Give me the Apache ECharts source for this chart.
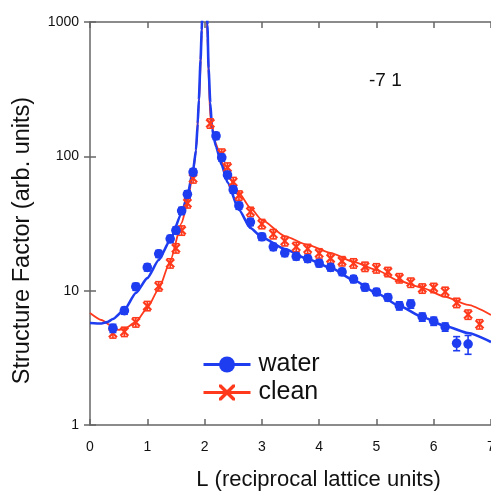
<!DOCTYPE html>
<html>
<head>
<meta charset="utf-8">
<script src="https://cdn.jsdelivr.net/npm/echarts@6/dist/echarts.min.js"></script>
<style>
  html, body { margin: 0; padding: 0; background: #fff; }
  #main { width: 491px; height: 495px; }
</style>
</head>
<body>
<div id="main"></div>
<script>
// measured points (L, structure factor, relative error)
var waterL = [0.4, 0.6, 0.8, 1.0, 1.2, 1.4, 1.5, 1.6, 1.7, 1.8,
  2.2, 2.3, 2.4, 2.5, 2.6, 2.8, 3.0, 3.2, 3.4, 3.6, 3.8, 4.0, 4.2, 4.4, 4.6,
  4.8, 5.0, 5.2, 5.4, 5.6, 5.8, 6.0, 6.2, 6.4, 6.6];
var waterS = [5.25, 7.1, 10.7, 14.9, 18.8, 24.3, 28.1, 39.3, 52.2, 76.3,
  142, 97.8, 72.7, 56.5, 42.9, 32.4, 25.2, 21.2, 19.1, 18.0, 17.3, 16.0, 14.9, 13.8, 12.2,
  10.6, 9.78, 8.9, 7.72, 7.96, 6.37, 5.93, 5.37, 4.06, 4.0];
var waterErr = [0.07, 0.06, 0.06, 0.06, 0.06, 0.06, 0.06, 0.06, 0.06, 0.06,
  0.06, 0.06, 0.06, 0.06, 0.06, 0.06, 0.06, 0.06, 0.06, 0.06, 0.06, 0.06, 0.06, 0.06, 0.06,
  0.06, 0.06, 0.06, 0.07, 0.07, 0.07, 0.07, 0.07, 0.12, 0.16];

var cleanL = [0.4, 0.6, 0.8, 1.0, 1.2, 1.4, 1.5, 1.6, 1.7, 1.8,
  2.1, 2.3, 2.4, 2.5, 2.6, 2.8, 3.0, 3.2, 3.4, 3.6, 3.8, 4.0, 4.2, 4.4, 4.6,
  4.8, 5.0, 5.2, 5.4, 5.6, 5.8, 6.0, 6.2, 6.4, 6.6, 6.8];
var cleanS = [4.82, 4.95, 5.82, 7.7, 10.8, 16.0, 20.7, 28.1, 44.8, 68.7,
  176, 105, 82.7, 64.5, 51.2, 38.7, 31.4, 26.4, 23.4, 21.2, 20.5, 19.0, 17.4, 16.6, 16.0,
  15.1, 14.7, 13.8, 12.4, 11.5, 10.4, 10.5, 9.83, 8.13, 6.65, 5.63];
var cleanErr = [0.08, 0.08, 0.08, 0.08, 0.08, 0.08, 0.08, 0.08, 0.08, 0.08,
  0.08, 0.08, 0.08, 0.08, 0.08, 0.08, 0.08, 0.08, 0.08, 0.08, 0.08, 0.08, 0.08, 0.08, 0.08,
  0.08, 0.08, 0.08, 0.08, 0.08, 0.08, 0.08, 0.08, 0.08, 0.08, 0.08];

// fitted curves
var waterFitL = [0, 0.2, 0.3, 0.4, 0.6, 0.8, 1.0, 1.2, 1.4, 1.6, 1.7, 1.8, 1.85, 1.88, 1.9, 1.93, 1.95, 1.97, 2.0,
  2.03, 2.05, 2.07, 2.1, 2.13, 2.2, 2.3, 2.4, 2.6, 2.8, 3.0, 3.4, 3.8, 4.2, 4.6, 5.0, 5.4, 5.8, 6.2, 6.6, 7.0];
var waterFitS = [5.75, 5.7, 5.83, 6.15, 7.2, 9.6, 12.4, 16.9, 23.8, 37.7, 51, 79, 111, 175, 263, 520, 870, 1800, 50000,
  1800, 950, 450, 250, 160, 118, 86, 64, 40, 29.3, 25.0, 20.4, 17.2, 14.8, 12.0, 9.6, 7.7, 6.37, 5.46, 4.84, 4.15];

var cleanFitL = [0, 0.2, 0.4, 0.5, 0.6, 0.8, 1.0, 1.2, 1.4, 1.6, 1.7, 1.8, 1.85, 1.9, 1.95, 1.97, 2.0,
  2.03, 2.05, 2.1, 2.2, 2.3, 2.4, 2.6, 2.8, 3.0, 3.4, 3.8, 4.2, 4.6, 5.0, 5.4, 5.8, 6.2, 6.6, 7.0];
var cleanFitS = [6.82, 6.05, 5.37, 5.1, 5.19, 5.85, 7.43, 10.3, 16.6, 31.9, 45, 76.5, 111, 240, 800, 1700, 50000,
  1600, 750, 190, 124, 91, 72.7, 53.4, 41.3, 33.6, 25.5, 21.9, 19.1, 16.4, 14.3, 11.8, 10.5, 8.98, 7.83, 6.59];

var xTicks = [0, 1, 2, 3, 4, 5, 6, 7];
var yTicks = [1, 10, 100, 1000];

var BLUE = '#1e3cf0';
var RED = '#ff3a1c';
var FONT = 'Liberation Sans, Arial, Helvetica, sans-serif';
var X_PATH = 'path://M0,0 L3,0 L10,7 L17,0 L20,0 L20,3 L13,10 L20,17 L20,20 L17,20 L10,13 L3,20 L0,20 L0,17 L7,10 L0,3 Z';

function zip(a, b) {
  return a.map(function (v, i) { return [v, b[i]]; });
}

function pointSeries(name, L, S, E, color, kind) {
  return {
    name: name,
    type: 'custom',
    z: 4,
    clip: true,
    data: L.map(function (l, i) { return [l, S[i], E[i]]; }),
    renderItem: function (params, api) {
      var x = api.value(0), y = api.value(1), e = api.value(2);
      var p = api.coord([x, y]);
      var lo = api.coord([x, y * (1 - e)]);
      var hi = api.coord([x, y * (1 + e)]);
      var cap = 3.5;
      var st = { stroke: color, lineWidth: 1.6 };
      var kids = [
        { type: 'line', shape: { x1: p[0], y1: lo[1], x2: p[0], y2: hi[1] }, style: st },
        { type: 'line', shape: { x1: p[0] - cap, y1: lo[1], x2: p[0] + cap, y2: lo[1] }, style: st },
        { type: 'line', shape: { x1: p[0] - cap, y1: hi[1], x2: p[0] + cap, y2: hi[1] }, style: st }
      ];
      if (kind === 'circle') {
        kids.push({ type: 'circle', shape: { cx: p[0], cy: p[1], r: 4.8 }, style: { fill: color } });
      } else {
        var s = 4;
        var xs = { stroke: color, lineWidth: 2.2 };
        kids.push({ type: 'line', shape: { x1: p[0] - s, y1: p[1] - s, x2: p[0] + s, y2: p[1] + s }, style: xs });
        kids.push({ type: 'line', shape: { x1: p[0] - s, y1: p[1] + s, x2: p[0] + s, y2: p[1] - s }, style: xs });
      }
      return { type: 'group', children: kids };
    }
  };
}

var chart = echarts.init(document.getElementById('main'), null, { renderer: 'canvas' });

var axisLine = { lineStyle: { color: '#666', width: 1.5 } };
var tick = { inside: true, length: 6, lineStyle: { color: '#666', width: 1.5 } };

chart.setOption({
  animation: false,
  backgroundColor: '#fff',
  textStyle: { fontFamily: FONT },
  title: {
    text: '-7 1',
    left: 364,
    top: 66,
    textStyle: { fontSize: 19, fontWeight: 'normal', color: '#111', fontFamily: FONT }
  },
  legend: {
    orient: 'vertical',
    left: 197,
    top: 347,
    itemWidth: 47,
    itemHeight: 20,
    itemGap: 3,
    textStyle: { fontSize: 25, color: '#111', fontFamily: FONT, padding: [0, 0, 0, 3] },
    data: [
      { name: 'water', lineStyle: { width: 3 } },
      { name: 'clean', lineStyle: { width: 3 } }
    ]
  },
  grid: { left: 90, right: 0, top: 22, bottom: 70, outerBoundsMode: 'none' },
  xAxis: [{
    type: 'value',
    min: xTicks[0],
    max: xTicks[xTicks.length - 1],
    interval: 1,
    axisLine: axisLine,
    axisTick: tick,
    splitLine: { show: false },
    axisLabel: { color: '#111', fontSize: 14, margin: 15, fontFamily: FONT },
    name: 'L (reciprocal lattice units)',
    nameLocation: 'middle',
    nameGap: 44,
    nameTextStyle: { fontSize: 22, color: '#111', fontFamily: FONT, padding: [0, 0, 0, 56] }
  }, {
    type: 'value',
    position: 'top',
    min: xTicks[0],
    max: xTicks[xTicks.length - 1],
    interval: 1,
    axisLine: axisLine,
    axisTick: tick,
    axisLabel: { show: false },
    splitLine: { show: false }
  }],
  yAxis: [{
    type: 'log',
    logBase: 10,
    min: yTicks[0],
    max: yTicks[yTicks.length - 1],
    axisLine: axisLine,
    axisTick: tick,
    splitLine: { show: false },
    minorTick: { show: false },
    axisLabel: {
      color: '#111', fontSize: 14, margin: 11, fontFamily: FONT,
      formatter: function (v) { return String(Math.round(v)); }
    },
    name: 'Structure Factor (arb. units)',
    nameLocation: 'middle',
    nameGap: 55,
    nameTextStyle: { fontSize: 23.5, color: '#111', fontFamily: FONT, padding: [0, 34, 0, 0] }
  }, {
    type: 'log',
    logBase: 10,
    position: 'right',
    min: yTicks[0],
    max: yTicks[yTicks.length - 1],
    axisLine: { show: false },
    axisTick: tick,
    axisLabel: { show: false },
    splitLine: { show: false }
  }],
  series: [
    {
      name: 'clean',
      type: 'line',
      data: zip(cleanFitL, cleanFitS),
      symbol: X_PATH,
      showSymbol: false,
      smooth: 0.2,
      smoothMonotone: 'x',
      itemStyle: { color: RED },
      lineStyle: { color: RED, width: 1.8 },
      z: 2
    },
    {
      name: 'water',
      type: 'line',
      data: zip(waterFitL, waterFitS),
      symbol: 'circle',
      showSymbol: false,
      smooth: 0.2,
      smoothMonotone: 'x',
      itemStyle: { color: BLUE },
      lineStyle: { color: BLUE, width: 2.6 },
      z: 3
    },
    pointSeries('clean points', cleanL, cleanS, cleanErr, RED, 'x'),
    pointSeries('water points', waterL, waterS, waterErr, BLUE, 'circle')
  ]
});
</script>
</body>
</html>
